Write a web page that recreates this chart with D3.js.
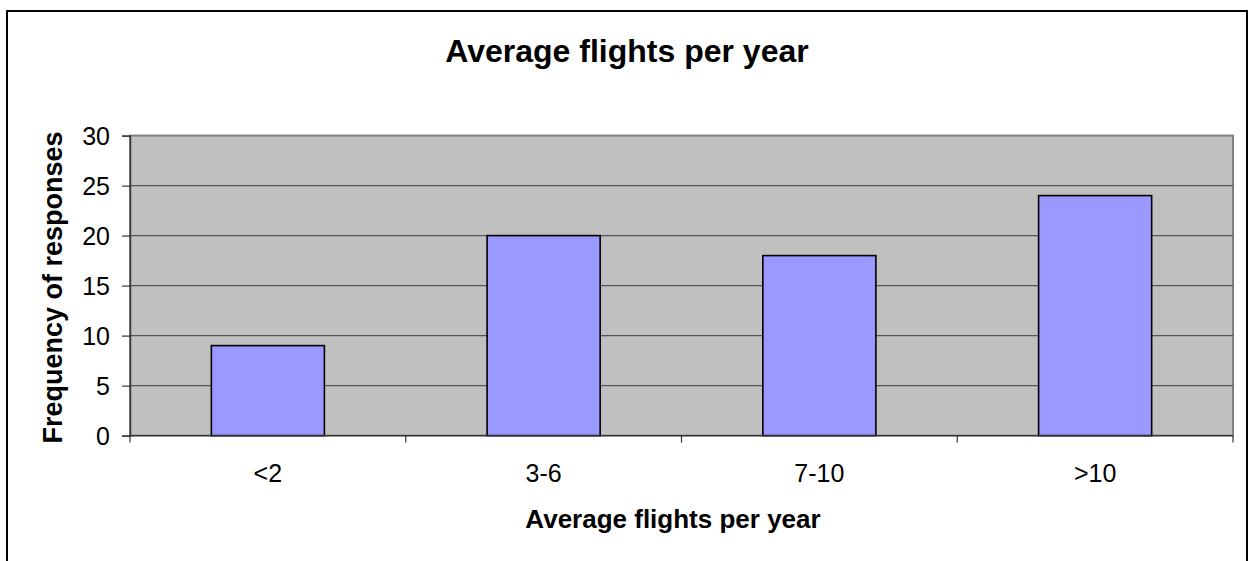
<!DOCTYPE html>
<html>
<head>
<meta charset="utf-8">
<script src="https://cdn.jsdelivr.net/npm/d3@7/dist/d3.min.js"></script>
<style>
  html, body { margin: 0; padding: 0; background: #fff; }
  svg { display: block; font-family: "Liberation Sans", Arial, sans-serif; }
</style>
</head>
<body>
<svg id="chart" width="1251" height="561"></svg>
<script>
// Survey responses by average number of flights per year
const categories = ["<2", "3-6", "7-10", ">10"];
const frequencies = [9, 20, 18, 24];
const yTicks = [0, 5, 10, 15, 20, 25, 30];
const chartTitle = "Average flights per year";
const xTitle = "Average flights per year";
const yTitle = "Frequency of responses";

const svg = d3.select("#chart");
const plot = { left: 130, right: 1233, top: 135.6, bottom: 435.6 };

// Outer chart frame (bottom edge runs past the visible area)
svg.append("rect")
  .attr("x", 7).attr("y", 11)
  .attr("width", 1240).attr("height", 600)
  .attr("fill", "#fff").attr("stroke", "#000").attr("stroke-width", 2);

const x = d3.scaleBand().domain(categories).range([plot.left, plot.right]).padding(0);
const y = d3.scaleLinear().domain([0, 30]).range([plot.bottom, plot.top]);

// Plot area background
svg.append("rect")
  .attr("x", plot.left).attr("y", plot.top)
  .attr("width", plot.right - plot.left).attr("height", plot.bottom - plot.top)
  .attr("fill", "#c0c0c0").attr("stroke", "#808080").attr("stroke-width", 2);

// Horizontal gridlines
svg.append("g").selectAll("line")
  .data(yTicks.filter(t => t > 0 && t < 30))
  .join("line")
  .attr("x1", plot.left).attr("x2", plot.right)
  .attr("y1", d => y(d)).attr("y2", d => y(d))
  .attr("stroke", "#555").attr("stroke-width", 1.4);

// Bars
const barFrac = 0.41;
svg.append("g").selectAll("rect")
  .data(categories.map((c, i) => ({ c, v: frequencies[i] })))
  .join("rect")
  .attr("x", d => x(d.c) + x.bandwidth() * (1 - barFrac) / 2)
  .attr("width", x.bandwidth() * barFrac)
  .attr("y", d => y(d.v))
  .attr("height", d => y(0) - y(d.v))
  .attr("fill", "#9999ff").attr("stroke", "#000").attr("stroke-width", 1.6);

// Y axis
const yAxis = d3.axisLeft(y).tickValues(yTicks).tickSize(8).tickPadding(12);
const gy = svg.append("g").attr("transform", `translate(${plot.left},0)`).call(yAxis);
gy.select(".domain").attr("stroke", "#333").attr("stroke-width", 1.4);
gy.selectAll(".tick line").attr("stroke", "#333").attr("stroke-width", 1.2);
gy.selectAll(".tick text")
  .attr("font-size", 25).attr("fill", "#000")
  .attr("font-family", "'Liberation Sans', Arial, sans-serif")
  .attr("dy", "0.36em");

// X axis: ticks sit on category boundaries
const boundaries = categories.map(c => x(c)).concat([plot.right]);
const gx = svg.append("g");
gx.append("line")
  .attr("x1", plot.left).attr("x2", plot.right)
  .attr("y1", plot.bottom).attr("y2", plot.bottom)
  .attr("stroke", "#333").attr("stroke-width", 1.4);
gx.selectAll("line.tk").data(boundaries).join("line")
  .attr("class", "tk")
  .attr("x1", d => d).attr("x2", d => d)
  .attr("y1", plot.bottom).attr("y2", plot.bottom + 7)
  .attr("stroke", "#333").attr("stroke-width", 1.2);
gx.selectAll("text").data(categories).join("text")
  .attr("x", d => x(d) + x.bandwidth() / 2)
  .attr("y", 481.5)
  .attr("text-anchor", "middle")
  .attr("font-size", 25).attr("fill", "#000")
  .text(d => d);

// Titles
svg.append("text")
  .attr("x", 627).attr("y", 62)
  .attr("text-anchor", "middle")
  .attr("font-size", 32).attr("font-weight", "bold")
  .text(chartTitle);

svg.append("text")
  .attr("x", 673).attr("y", 528)
  .attr("text-anchor", "middle")
  .attr("font-size", 26).attr("font-weight", "bold")
  .text(xTitle);

svg.append("text")
  .attr("transform", `translate(61.5,287.5) rotate(-90)`)
  .attr("text-anchor", "middle")
  .attr("font-size", 27).attr("font-weight", "bold")
  .text(yTitle);
</script>
</body>
</html>
